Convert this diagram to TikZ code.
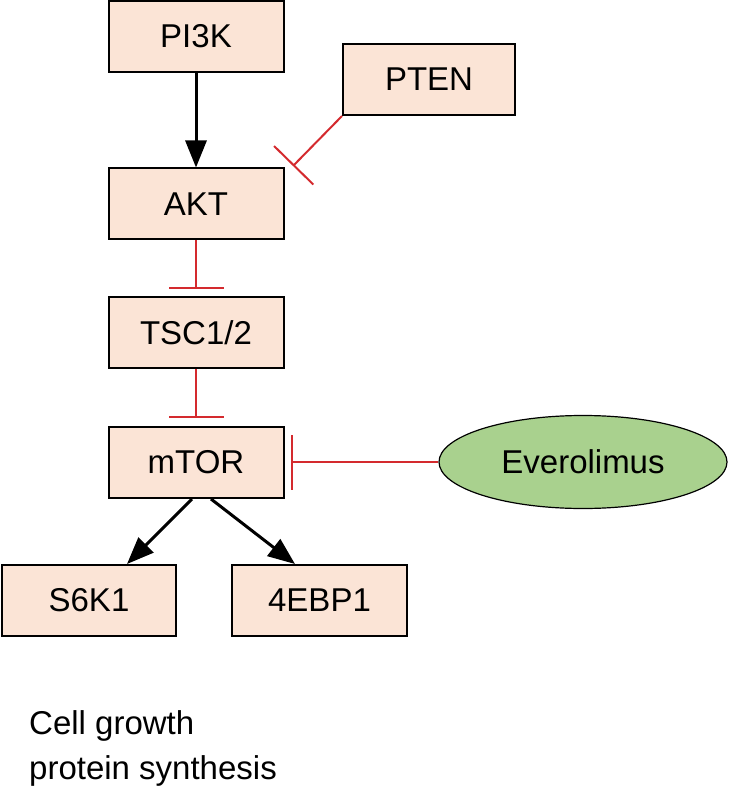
\documentclass[tikz,border=0pt]{standalone}
\usepackage{fontspec}
\setmainfont{Liberation Sans}
\usetikzlibrary{arrows.meta,shapes.geometric,calc}
\definecolor{boxfill}{HTML}{FBE4D6}
\definecolor{ellfill}{HTML}{A9D18E}
\definecolor{inhred}{HTML}{D42A2E}
\tikzset{
  gbox/.style={draw=black, line width=2pt, fill=boxfill, minimum width=175pt, minimum height=71pt, inner sep=0pt, font=\fontsize{33}{38}\selectfont},
  drug/.style={ellipse, draw=black, line width=1.2pt, fill=ellfill, minimum width=288pt, minimum height=93pt, inner sep=0pt, font=\fontsize{33}{38}\selectfont},
  act/.style={draw=black, line width=3pt, -{Triangle[length=27pt, width=21pt]}},
  inh/.style={draw=inhred, color=inhred, line width=2pt, -{Bar[width=55pt, line width=2pt]}},
  note/.style={font=\fontsize{33}{45}\selectfont, align=left, anchor=north west, inner sep=0pt}
}
\begin{document}
\begin{tikzpicture}[x=1pt, y=-1pt]
\useasboundingbox (0,0) rectangle (732,799);
\node[gbox] (pi3k) at (196,36.5) {PI3K};
\node[gbox, minimum width=172pt] (pten) at (429,79.5) {PTEN};
\node[gbox] (akt) at (196,204) {AKT};
\node[gbox] (tsc) at (196,332.5) {TSC1/2};
\node[gbox] (mtor) at (196,462.5) {mTOR};
\node[gbox, minimum width=174pt] (s6k1) at (89,600.5) {S6K1};
\node[gbox] (ebp) at (319.5,600.5) {4EBP1};
\node[drug] (evero) at (583,462) {Everolimus};
\coordinate (ptenend) at (293,166);
\coordinate (tscend) at ($(tsc.north)+(0,-7)$);
\coordinate (mtorend) at ($(mtor.north)+(0,-8)$);
\coordinate (everoend) at (291,462);
\node[note] (txt) at (29,710) {Cell growth\\protein synthesis};
\draw[act] (pi3k) -- (akt);
\draw[inh] (pten.south west) -- (ptenend);
\draw[inh] (akt.south) -- (tscend);
\draw[inh] (tsc.south) -- (mtorend);
\draw[inh] (evero.west) -- (everoend);
\draw[act] ([xshift=-4pt]mtor.south) -- ([xshift=38pt]s6k1.north);
\draw[act] ([xshift=15pt]mtor.south) -- ([xshift=-24.5pt]ebp.north);
\end{tikzpicture}
\end{document}
